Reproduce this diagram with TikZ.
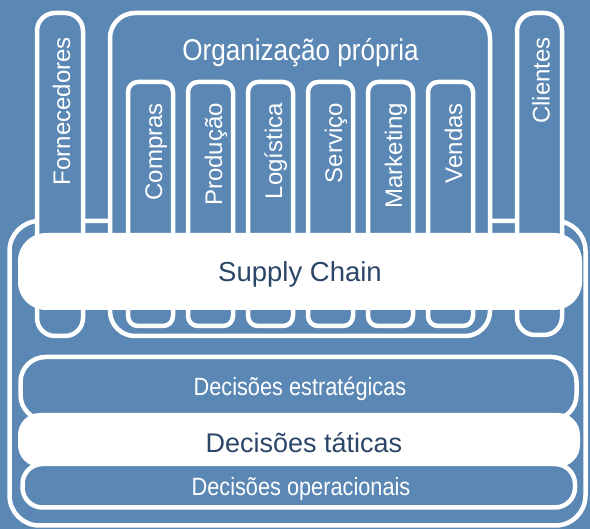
\documentclass[tikz,border=0pt]{standalone}
\usepackage{fontspec}
\setmainfont{Liberation Sans}
\newfontfamily\narrowfont{Liberation Sans}[FakeStretch=0.87]
\usepackage{tikz}
\definecolor{chainblue}{RGB}{91,135,180}
\definecolor{chainnavy}{RGB}{44,70,104}
\tikzset{
	column/.style={draw=white,fill=chainblue,line width=4.5pt},
	whitebar/.style={fill=white},
	collabel/.style={text=white,rotate=90,anchor=base east,inner sep=0pt,font=\fontsize{24}{28}\selectfont},
	bluelabel/.style={text=white,anchor=base,inner sep=0pt,font=\narrowfont\fontsize{25}{30}\selectfont},
	navylabel/.style={text=chainnavy,anchor=base,inner sep=0pt,font=\fontsize{27.5}{32}\selectfont}
}

\begin{document}
\begin{tikzpicture}[x=1pt,y=-1pt]
				\def\colw{45};
				\def\pitch{60};
				\fill[chainblue] (0,0) rectangle (590,529);
				% frame of the supply chain
				\draw[column,rounded corners=30pt] (9.5,221) rectangle (585.5,525.5);
				% outer partners and own organisation
				\draw[column,rounded corners=18pt] (37,13) rectangle (83,336);
				\draw[column,rounded corners=18pt] (517,13) rectangle (562,335);
				\draw[column,rounded corners=25pt] (110,13) rectangle (490,336);
				\node[bluelabel,font=\narrowfont\fontsize{30}{34}\selectfont] (org) at (300.5,60.5) {Organização própria};
				\node[collabel] (forn) at (70,37) {Fornecedores};
				\node[collabel] (clientes) at (549.5,37) {Clientes};
				\foreach \name [count=\i from 0] in {Compras,Produção,Logística,Serviço,Marketing,Vendas} {
					\pgfmathsetmacro\xl{128+\pitch*\i}
					\draw[column,rounded corners=10pt] (\xl,82) rectangle ++(\colw,244);
					\node[collabel] (dept\i) at (\xl+34,103) {\name};
				}
				% the chain itself
				\fill[whitebar,rounded corners=28pt] (18,233) rectangle (582,310);
				\node[navylabel] (supply) at (300,282) {Supply Chain};
				% decision levels
				\draw[column,rounded corners=25pt] (20.5,357) rectangle (576.5,420);
				\fill[whitebar,rounded corners=22pt] (18,413) rectangle (580,467);
				\draw[column,rounded corners=20pt] (22.5,464) rectangle (575,507.5);
				\node[bluelabel] (estrat) at (300,396) {Decisões estratégicas};
				\node[navylabel,font=\fontsize{27}{32}\selectfont] (taticas) at (304,453) {Decisões táticas};
				\node[bluelabel] (operac) at (301,496) {Decisões operacionais};
			\end{tikzpicture}
\end{document}
